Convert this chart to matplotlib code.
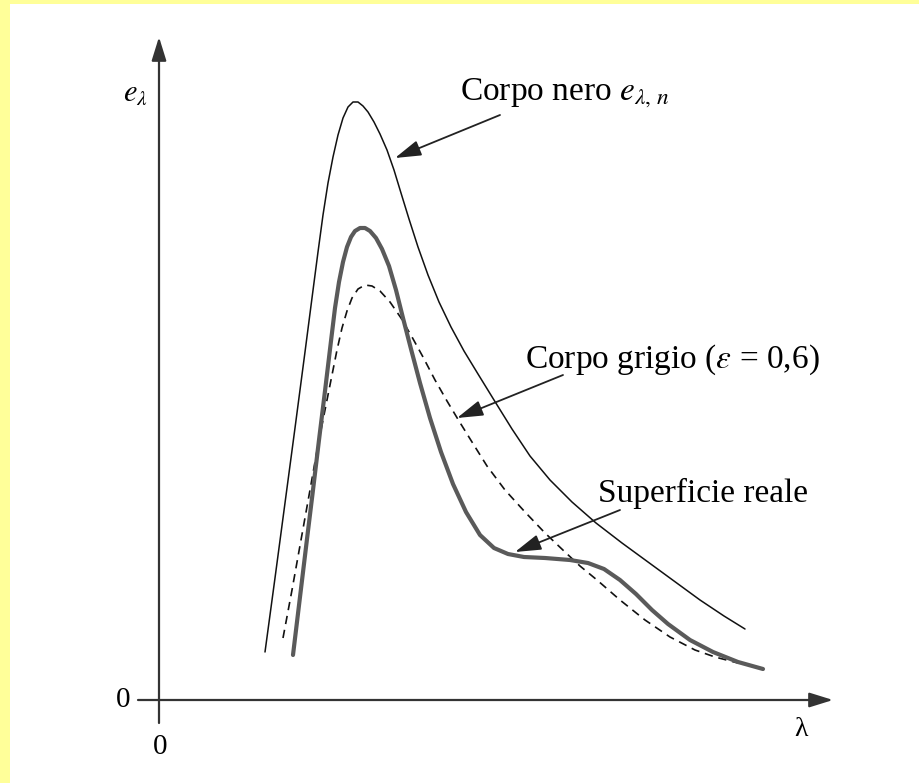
import matplotlib
matplotlib.use("Agg")
import matplotlib.pyplot as plt
from matplotlib.patches import Rectangle

plt.rcParams['font.family'] = ['Liberation Serif', 'DejaVu Serif']
plt.rcParams['mathtext.fontset'] = 'stix'

# Black body e_lambda,n (arbitrary units)
black_lam = [2.12, 2.32, 2.52, 2.72, 2.92, 3.06, 3.18, 3.28, 3.38, 3.48, 3.58, 3.68, 3.78, 3.88,
             3.98, 4.08, 4.18, 4.30, 4.42, 4.56, 4.70, 4.84, 5.00, 5.18, 5.38, 5.60, 5.84, 6.10,
             6.38, 6.70, 7.06, 7.42, 7.82, 8.26, 8.74, 9.26, 9.78, 10.30, 10.82, 11.30, 11.72]
black_e = [0.96, 2.44, 3.94, 5.44, 6.96, 8.04, 8.96, 9.70, 10.34, 10.86, 11.30, 11.64, 11.86, 11.96,
           11.96, 11.88, 11.76, 11.56, 11.32, 11.00, 10.60, 10.14, 9.62, 9.06, 8.50, 7.96, 7.46, 6.98,
           6.52, 6.00, 5.42, 4.88, 4.40, 3.96, 3.54, 3.14, 2.76, 2.38, 2.00, 1.68, 1.42]

# Real surface
real_lam = [2.68, 2.82, 2.96, 3.08, 3.20, 3.32, 3.44, 3.52, 3.60, 3.68, 3.76, 3.84, 3.92, 4.02,
            4.12, 4.22, 4.34, 4.46, 4.60, 4.74, 4.88, 5.04, 5.22, 5.42, 5.64, 5.88, 6.14, 6.42,
            6.70, 6.98, 7.30, 7.72, 8.22, 8.58, 8.90, 9.22, 9.54, 9.86, 10.18, 10.62, 11.08,
            11.58, 12.08]
real_e = [0.90, 2.06, 3.22, 4.20, 5.20, 6.18, 7.18, 7.84, 8.36, 8.76, 9.06, 9.26, 9.38, 9.44,
          9.44, 9.38, 9.24, 9.02, 8.68, 8.20, 7.64, 7.02, 6.34, 5.64, 4.96, 4.32, 3.76, 3.30,
          3.04, 2.92, 2.86, 2.84, 2.80, 2.74, 2.62, 2.40, 2.12, 1.80, 1.52, 1.20, 0.96,
          0.76, 0.62]

# Grey body (epsilon = 0.6)
grey_lam = [2.48, 2.66, 2.84, 3.02, 3.18, 3.32, 3.44, 3.56, 3.66, 3.76, 3.86, 3.98, 4.12, 4.26,
            4.42, 4.62, 4.84, 5.06, 5.28, 5.52, 5.76, 6.00, 6.26, 6.56, 6.92, 7.32, 7.72, 8.12,
            8.42, 8.76, 9.22, 9.72, 10.22, 10.72, 11.12, 11.58]
grey_e = [1.24, 2.20, 3.20, 4.20, 5.10, 5.80, 6.40, 7.00, 7.44, 7.78, 8.04, 8.22, 8.30, 8.28,
          8.18, 7.96, 7.64, 7.26, 6.86, 6.40, 5.98, 5.58, 5.16, 4.68, 4.20, 3.76, 3.34, 2.96,
          2.68, 2.40, 2.00, 1.60, 1.26, 1.00, 0.86, 0.74]

label_black = r"Corpo nero $e_{\lambda,\,n}$"
label_grey = r"Corpo grigio ($\varepsilon$ = 0,6)"
label_real = "Superficie reale"

fig = plt.figure(figsize=(9.2, 7.83), dpi=100)
fig.patch.set_facecolor('#ffff99')
ax = fig.add_axes([0, 0, 1, 1])
ax.set_facecolor('none')
ax.set_xlim(-3.18, 15.22)
ax.set_ylim(-1.66, 14.0)
ax.axis('off')
ax.add_patch(Rectangle((10 / 920, 0), 1, 1 - 4 / 783, transform=fig.transFigure,
                       facecolor='white', edgecolor='none', zorder=-10, clip_on=False))

# axes arrows
axis_arrow = dict(arrowstyle='-|>,head_length=0.9,head_width=0.28', color='#333333',
                  lw=1.6, shrinkA=0, shrinkB=0, mutation_scale=16)
ax.annotate('', xy=(13.48, 0), xytext=(-0.42, 0), arrowprops=axis_arrow)
ax.annotate('', xy=(0, 13.26), xytext=(0, -0.46), arrowprops=axis_arrow)

ax.plot(black_lam, black_e, color='#111111', lw=1.1, solid_capstyle='round',
        solid_joinstyle='round')
ax.plot(grey_lam, grey_e, color='#111111', lw=1.2, dashes=(5, 3.5))
ax.plot(real_lam, real_e, color='#5a5a5a', lw=3.0, solid_capstyle='round',
        solid_joinstyle='round')

ax.text(-0.72, 0.0, '0', fontsize=21, ha='center', va='center')
ax.text(0.02, -0.94, '0', fontsize=21, ha='center', va='center')
ax.text(12.84, -0.60, 'λ', fontsize=20, ha='center', va='center')
ax.text(-0.48, 12.14, r'$e_\lambda$', fontsize=22, ha='center', va='center')

arrow_kw = dict(arrowstyle='-|>,head_length=1.0,head_width=0.3', color='#222222', lw=1.3,
                shrinkA=0, shrinkB=0, mutation_scale=16)
ax.text(6.02, 12.14, label_black, fontsize=24, ha='left', va='center')
ax.annotate('', xy=(4.72, 10.84), xytext=(6.82, 11.70), arrowprops=arrow_kw)
ax.text(7.32, 6.80, label_grey, fontsize=24, ha='left', va='center')
ax.annotate('', xy=(5.96, 5.64), xytext=(8.08, 6.50), arrowprops=arrow_kw)
ax.text(8.78, 4.14, label_real, fontsize=24, ha='left', va='center')
ax.annotate('', xy=(7.12, 2.96), xytext=(9.22, 3.80), arrowprops=arrow_kw)

fig.savefig('out.png', dpi=100, facecolor=fig.get_facecolor())
